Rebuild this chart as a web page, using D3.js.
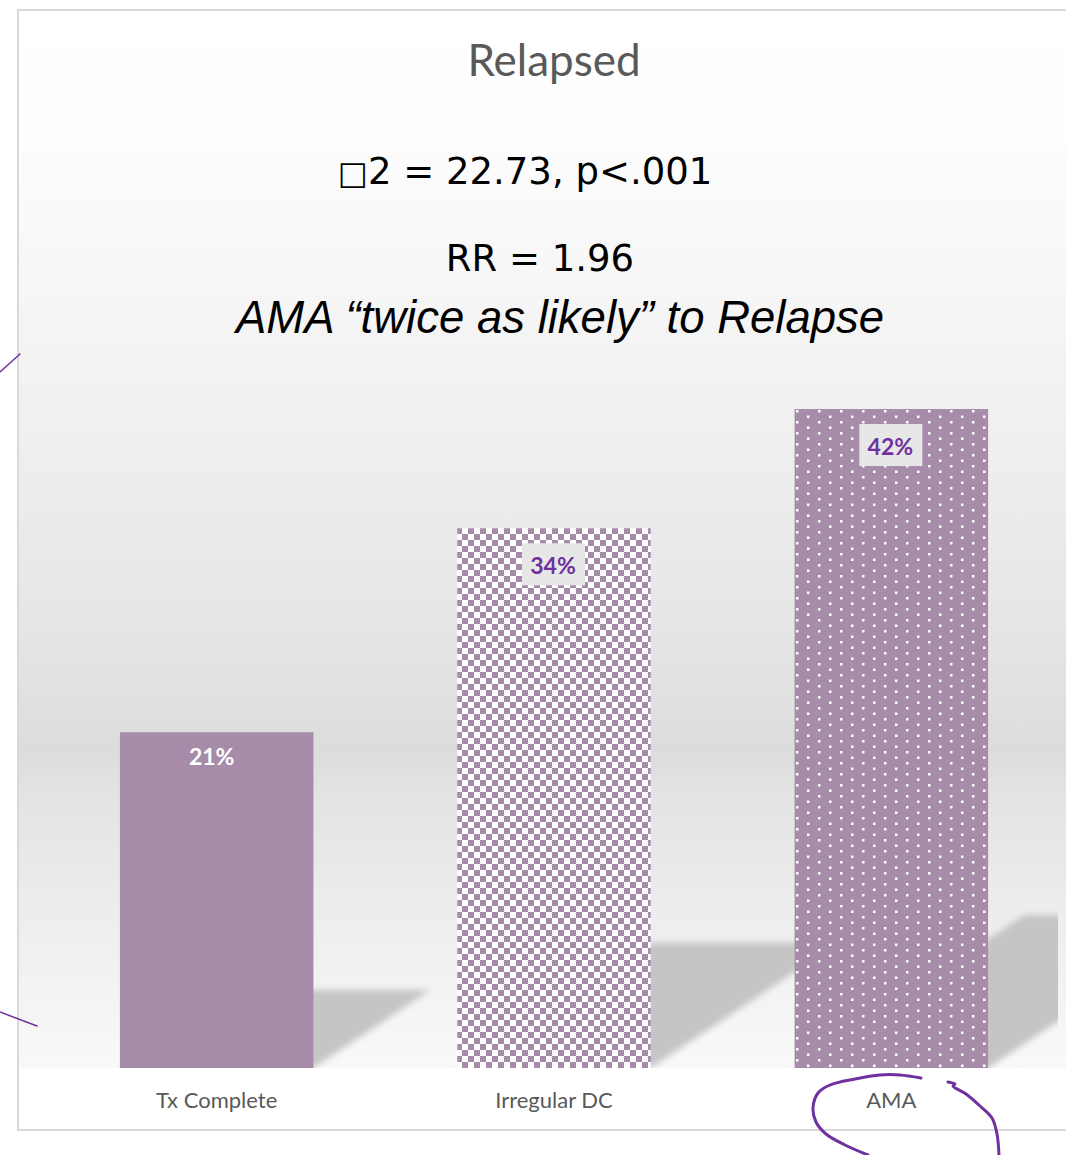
<!DOCTYPE html>
<html>
<head>
<meta charset="utf-8">
<script src="https://cdn.jsdelivr.net/npm/d3@7"></script>
<style>
  html, body { margin: 0; padding: 0; background: #ffffff; }
  svg { display: block; }
</style>
</head>
<body>
<div id="chart"></div>
<script>
// ---- data ----
const categories = ["Tx Complete", "Irregular DC", "AMA"];
const relapsedPct = [21.4, 34.4, 42.0];
const valueLabels = ["21%", "34%", "42%"];
const titleText = "Relapsed";
const statLine1 = ["\u25A1", "2 = 22.73, p<.001"];
const statLine2 = "RR = 1.96";
const statLine3 = "AMA \u201Ctwice as likely\u201D to Relapse";
// hand-drawn pen marks on the slide (annotation strokes)
const penStrokeA = [[0, 372], [20, 354]];
const penStrokeB = [[0, 1012], [37, 1026]];
const penCircle = [[921, 1078], [900, 1075], [880, 1075], [855, 1079], [830, 1085], [818, 1093], [813, 1108], [816, 1122], [826, 1134], [845, 1145], [868, 1155]];
const penHook = [[948, 1082], [955, 1084], [953, 1086], [966, 1094], [980, 1106], [992, 1118], [997, 1134], [999, 1155]];

// ---- layout ----
const W = 1066, H = 1155;
const base = 1068;
const barColor = "#a68ca9";

const svg = d3.select("#chart").append("svg").attr("width", W).attr("height", H);
const defs = svg.append("defs");

// background gradient
const grad = defs.append("linearGradient").attr("id", "bg").attr("x1", 0).attr("y1", 0).attr("x2", 0).attr("y2", 1);
[[0, "#ffffff"], [0.12, "#fdfdfd"], [0.35, "#f2f2f2"], [0.56, "#e7e7e7"], [0.67, "#dfdfdf"], [0.70, "#dcdcdc"], [0.74, "#e3e3e3"], [0.84, "#ececec"], [0.94, "#f4f4f4"], [1, "#f9f9f9"]]
  .forEach(([o, c]) => grad.append("stop").attr("offset", o).attr("stop-color", c));

// patterns
const cs = 6;
const checker = defs.append("pattern").attr("id", "checker").attr("patternUnits", "userSpaceOnUse")
  .attr("width", cs * 2).attr("height", cs * 2);
checker.append("rect").attr("width", cs * 2).attr("height", cs * 2).attr("fill", "#ffffff");
checker.append("rect").attr("x", 0).attr("y", 0).attr("width", cs).attr("height", cs).attr("fill", barColor);
checker.append("rect").attr("x", cs).attr("y", cs).attr("width", cs).attr("height", cs).attr("fill", barColor);

const dots = defs.append("pattern").attr("id", "dots").attr("patternUnits", "userSpaceOnUse")
  .attr("width", 22).attr("height", 11);
dots.append("rect").attr("width", 22).attr("height", 11).attr("fill", barColor);
dots.append("rect").attr("x", 4).attr("y", 3).attr("width", 2.5).attr("height", 2.5).attr("fill", "#ffffff");
dots.append("rect").attr("x", 15).attr("y", 8.5).attr("width", 2.5).attr("height", 2.5).attr("fill", "#ffffff");

const blur = defs.append("filter").attr("id", "blur").attr("x", "-20%").attr("y", "-20%").attr("width", "140%").attr("height", "140%");
blur.append("feGaussianBlur").attr("stdDeviation", 3);

defs.append("clipPath").attr("id", "plotClip").append("rect")
  .attr("x", 19).attr("y", 11).attr("width", 1058 - 19).attr("height", base - 11);

// frame
svg.append("rect").attr("x", 18).attr("y", 10).attr("width", 1200).attr("height", 1120)
  .attr("fill", "#ffffff").attr("stroke", "#d9d9d9").attr("stroke-width", 2);
svg.append("rect").attr("x", 19).attr("y", 11).attr("width", 1100).attr("height", base - 11).attr("fill", "url(#bg)");

// scales
const x = d3.scaleBand().domain(categories).range([48, 1060]).paddingInner(0.4264).paddingOuter(0.2132);
const y = d3.scaleLinear().domain([0, 50]).range([base, base - 50 * 15.69]);

const data = categories.map((c, i) => ({ cat: c, v: relapsedPct[i], label: valueLabels[i], i }));
const fillFor = i => i === 0 ? barColor : (i === 1 ? "url(#checker)" : "url(#dots)");

// shadows
const shadowG = svg.append("g").attr("clip-path", "url(#plotClip)");
shadowG.selectAll("path").data(data).join("path")
  .attr("d", d => {
    const x0 = x(d.cat), x1 = x0 + x.bandwidth();
    const h = base - y(d.v);
    const dx = 0.348 * h, dy = 0.232 * h;
    return d3.line()([[x0, base], [x1, base], [x1 + dx, base - dy], [x0 + dx, base - dy]]) + "Z";
  })
  .attr("fill", "#c5c5c5")
  .attr("filter", "url(#blur)");

// bars
svg.append("g").selectAll("rect").data(data).join("rect")
  .attr("x", d => x(d.cat))
  .attr("y", d => y(d.v))
  .attr("width", x.bandwidth())
  .attr("height", d => base - y(d.v))
  .attr("fill", d => fillFor(d.i));

// value labels
const lab = svg.append("g").selectAll("g").data(data).join("g");
lab.filter(d => d.i > 0).append("rect")
  .attr("x", d => x(d.cat) + x.bandwidth() / 2 - 32)
  .attr("y", d => y(d.v) + 15)
  .attr("width", 63).attr("height", 42)
  .attr("fill", "#e7e7e7");
lab.append("text")
  .attr("x", d => x(d.cat) + x.bandwidth() / 2 - (d.i === 0 ? 5 : 1))
  .attr("y", d => y(d.v) + (d.i > 0 ? 46 : 33))
  .attr("text-anchor", "middle")
  .attr("font-family", "Lato, 'Open Sans', sans-serif")
  .attr("font-weight", "bold")
  .attr("font-size", 23)
  .attr("fill", d => d.i > 0 ? "#7030a0" : "#ffffff")
  .text(d => d.label);

// axis (category labels)
const xAxis = svg.append("g").attr("transform", `translate(0,${base})`)
  .call(d3.axisBottom(x).tickSize(0).tickPadding(24));
xAxis.select(".domain").remove();
xAxis.selectAll("text")
  .attr("font-family", "Lato, 'Open Sans', sans-serif")
  .attr("font-size", 22)
  .attr("fill", "#595959");

// title & stats
svg.append("text").attr("x", 554).attr("y", 76).attr("text-anchor", "middle")
  .attr("font-family", "Lato, sans-serif").attr("font-size", 44).attr("fill", "#595959")
  .text(titleText);

const s1 = svg.append("text").attr("x", 525).attr("y", 184).attr("text-anchor", "middle")
  .attr("font-family", "'DejaVu Sans', sans-serif").attr("font-size", 37).attr("fill", "#000");
s1.append("tspan").attr("font-size", 32).text(statLine1[0]);
s1.append("tspan").text(statLine1[1]);

svg.append("text").attr("x", 540).attr("y", 271).attr("text-anchor", "middle")
  .attr("font-family", "'DejaVu Sans', sans-serif").attr("font-size", 37).attr("fill", "#000")
  .text(statLine2);

svg.append("text").attr("x", 560).attr("y", 333).attr("text-anchor", "middle")
  .attr("font-family", "'Liberation Sans', Arial, sans-serif").attr("font-style", "italic")
  .attr("font-size", 45.5).attr("fill", "#000")
  .text(statLine3);

// pen annotations
const pen = svg.append("g").attr("fill", "none").attr("stroke", "#7030a0").attr("stroke-linecap", "round");
pen.append("path").attr("d", d3.line()(penStrokeA)).attr("stroke-width", 1.5);
pen.append("path").attr("d", d3.line()(penStrokeB)).attr("stroke-width", 1.5);
pen.append("path").attr("d", d3.line().curve(d3.curveCatmullRom)(penCircle)).attr("stroke-width", 3);
pen.append("path").attr("d", d3.line().curve(d3.curveCatmullRom)(penHook)).attr("stroke-width", 3);
</script>
</body>
</html>
